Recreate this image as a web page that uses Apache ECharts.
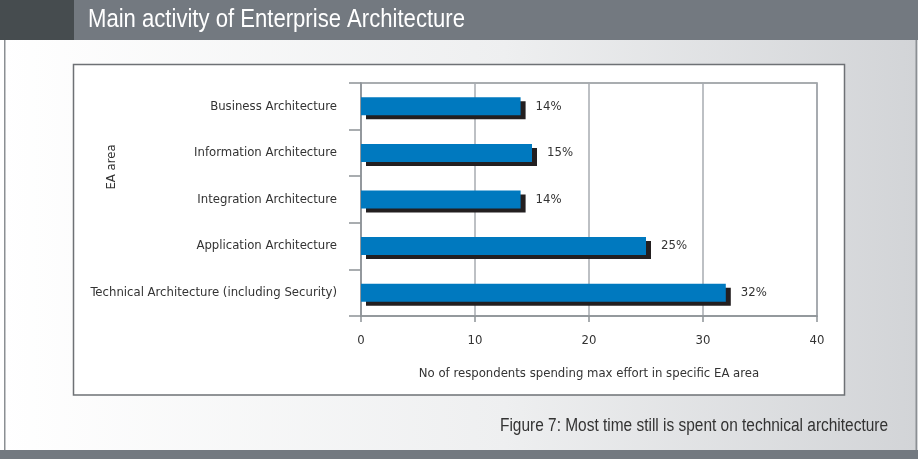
<!DOCTYPE html>
<html>
<head>
<meta charset="utf-8">
<script src="https://cdn.jsdelivr.net/npm/echarts@6/dist/echarts.min.js"></script>
<style>
  html, body { margin: 0; padding: 0; background: #ffffff; }
  #chart { width: 918px; height: 459px; }
</style>
</head>
<body>
<div id="chart"></div>
<script>
// EA areas, top to bottom
const categories = [
  'Business Architecture',
  'Information Architecture',
  'Integration Architecture',
  'Application Architecture',
  'Technical Architecture (including Security)'
];
// Share of respondents spending max effort in each area
const values = [14, 15, 14, 25, 32];
const xTicks = [0, 10, 20, 30, 40];

const titleText = 'Main activity of Enterprise Architecture';
const captionText = 'Figure 7: Most time still is spent on technical architecture';
const xAxisName = 'No of respondents spending max effort in specific EA area';
const yAxisName = 'EA area';

const FONT = '"DejaVu Sans Condensed", "Liberation Sans", sans-serif';
const WIDE_FONT = '"Liberation Sans", Arial, sans-serif';

// Horizontal squeeze so a regular sans face reads like a narrow one
function squeezeFor(text, font, targetWidth) {
  const ctx = document.createElement('canvas').getContext('2d');
  ctx.font = font;
  return targetWidth / ctx.measureText(text).width;
}
const titleFont = '25px ' + WIDE_FONT;
const captionFont = '18px ' + WIDE_FONT;
const titleScale = squeezeFor(titleText, titleFont, 377);
const captionScale = squeezeFor(captionText, captionFont, 388);

const chart = echarts.init(document.getElementById('chart'), null, { renderer: 'canvas' });

const option = {
  animation: false,
  textStyle: { fontFamily: FONT },
  graphic: [
    // page body with soft horizontal gradient
    { type: 'rect', z: -100, shape: { x: 0, y: 40, width: 918, height: 412 },
      style: { fill: new echarts.graphic.LinearGradient(0, 0, 1, 0, [
        { offset: 0, color: '#ffffff' }, { offset: 0.55, color: '#eeeff0' }, { offset: 1, color: '#d2d4d7' }
      ]) } },
    { type: 'rect', z: -99, shape: { x: 4, y: 40, width: 1.5, height: 412 }, style: { fill: '#8b8f93' } },
    { type: 'rect', z: -99, shape: { x: 915.5, y: 40, width: 1.5, height: 412 }, style: { fill: '#8b8f93' } },
    // header band
    { type: 'rect', z: -99, shape: { x: 0, y: 0, width: 918, height: 40 }, style: { fill: '#737980' } },
    { type: 'rect', z: -98, shape: { x: 0, y: 0, width: 74, height: 40 }, style: { fill: '#464c4f' } },
    { type: 'text', z: -97, x: 88, y: 20, scaleX: titleScale,
      style: { text: titleText, fill: '#ffffff', font: titleFont, verticalAlign: 'middle' } },
    // footer band
    { type: 'rect', z: -99, shape: { x: 0, y: 450, width: 918, height: 9 }, style: { fill: '#737980' } },
    // white chart panel
    { type: 'rect', z: -90, shape: { x: 73.5, y: 64.5, width: 771, height: 330.5 },
      style: { fill: '#ffffff', stroke: '#6e7175', lineWidth: 1.5 } },
    // vertical axis title
    { type: 'text', z: 10, x: 112, y: 167, rotation: Math.PI / 2,
      style: { text: yAxisName, fill: '#333333', font: '13px ' + FONT, align: 'center', verticalAlign: 'middle' } },
    // caption
    { type: 'text', z: 10, x: 888, y: 426, scaleX: captionScale,
      style: { text: captionText, fill: '#333333', font: captionFont, align: 'right', verticalAlign: 'middle' } }
  ],
  grid: {
    left: 361, right: 101, top: 83, bottom: 143,
    show: true, borderColor: '#8d9297', borderWidth: 1.5, backgroundColor: 'transparent'
  },
  xAxis: {
    type: 'value', min: 0, max: 40, interval: 10,
    name: xAxisName, nameLocation: 'middle', nameGap: 51,
    nameTextStyle: { color: '#333333', fontSize: 13, fontFamily: FONT },
    axisLine: { show: true, lineStyle: { color: '#8d9297', width: 1.5 } },
    axisTick: { show: true, length: 6, lineStyle: { color: '#8d9297', width: 1.5 } },
    axisLabel: { color: '#333333', fontSize: 13, margin: 18, fontFamily: FONT,
      formatter: v => (xTicks.indexOf(v) >= 0 ? String(v) : '') },
    splitLine: { show: true, lineStyle: { color: '#a7abb0', width: 1.5 } }
  },
  yAxis: {
    type: 'category', data: categories, inverse: true,
    axisLine: { show: true, lineStyle: { color: '#8d9297', width: 1.5 } },
    axisTick: { show: true, inside: false, length: 12, lineStyle: { color: '#8d9297', width: 1.5 } },
    axisLabel: { color: '#333333', fontSize: 13, margin: 24, fontFamily: FONT },
    splitLine: { show: false }
  },
  series: [{
    type: 'bar',
    data: values,
    barWidth: 18,
    itemStyle: {
      color: '#0079bf',
      shadowColor: '#231f20', shadowBlur: 0, shadowOffsetX: 5, shadowOffsetY: 4
    },
    label: {
      show: true, position: 'right', distance: 15,
      color: '#333333', fontSize: 13, fontFamily: FONT,
      formatter: p => p.value + '%'
    }
  }]
};

chart.setOption(option);
</script>
</body>
</html>
